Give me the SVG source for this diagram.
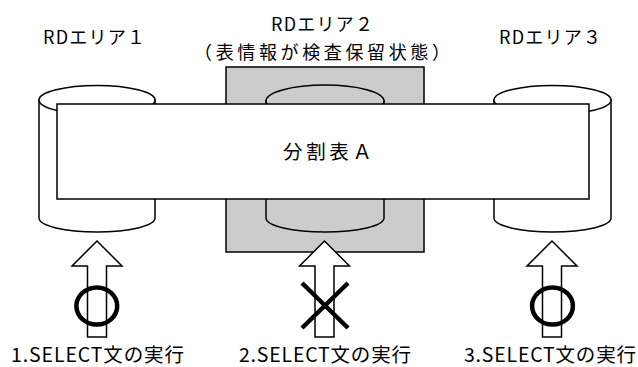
<svg xmlns="http://www.w3.org/2000/svg" width="638" height="367" viewBox="0 0 638 367">
<style>
.ln{stroke:#000;stroke-width:1.5;stroke-linejoin:miter}
.wh{fill:#fff}
.gr{fill:#cccccc}
.t{font-family:"Noto Sans CJK JP","Noto Sans",sans-serif;fill:#000}
.tt{font-size:18px}
.bt{font-size:19.5px}
.mark{fill:none;stroke:#000;stroke-width:4.5}
</style>
<defs>
<polygon id="arrow" points="0,0 -25,25 -9.5,25 -9.5,96 9.5,96 9.5,25 25,25" fill="#fff" stroke="#000" stroke-width="1.5"/>
</defs>
<rect width="638" height="367" fill="#fff"/>

<g id="rdarea2-box">
<rect x="226" y="67" width="198" height="185" class="gr ln"/>
</g>

<g id="rdarea1-cyl">
<path d="M39,100 L39,218 A58,14 0 0 0 155,218 L155,100 Z" class="wh ln"/>
<ellipse cx="97" cy="100" rx="58" ry="14.5" class="wh ln"/>
</g>
<g id="rdarea2-cyl">
<path d="M266,101 L266,218 A59,14 0 0 0 384,218 L384,101 Z" class="gr ln"/>
<ellipse cx="325" cy="101" rx="59" ry="16" class="gr ln"/>
</g>
<g id="rdarea3-cyl">
<path d="M494,100 L494,218 A58.5,14 0 0 0 611,218 L611,100 Z" class="wh ln"/>
<ellipse cx="552.5" cy="100" rx="58.5" ry="14.5" class="wh ln"/>
</g>

<g id="table-a">
<rect x="57" y="104" width="532" height="95" class="wh ln"/>
<text x="283" y="159" class="t bt" textLength="89" lengthAdjust="spacing">分割表Ａ</text>
</g>

<g id="labels">
<text x="43" y="44" class="t tt" textLength="102" lengthAdjust="spacing">RDエリア１</text>
<text x="271" y="31" class="t tt" textLength="102" lengthAdjust="spacing">RDエリア２</text>
<text x="194" y="58.5" class="t tt" textLength="256" lengthAdjust="spacing">（表情報が検査保留状態）</text>
<text x="499" y="44" class="t tt" textLength="102" lengthAdjust="spacing">RDエリア３</text>
</g>

<g id="connectors">
<use href="#arrow" x="97" y="241"/>
<use href="#arrow" x="324.5" y="241"/>
<use href="#arrow" x="552" y="241"/>
</g>

<g id="select1">
<ellipse cx="96.8" cy="306" rx="20.4" ry="18.6" class="mark"/>
<text x="11" y="362" class="t bt" textLength="173" lengthAdjust="spacing">1.SELECT文の実行</text>
</g>
<g id="select2">
<path d="M302,283 L348,328 M348,283 L302,328" class="mark"/>
<text x="239" y="362" class="t bt" textLength="172" lengthAdjust="spacing">2.SELECT文の実行</text>
</g>
<g id="select3">
<ellipse cx="552.5" cy="306" rx="20.4" ry="18.6" class="mark"/>
<text x="464" y="362" class="t bt" textLength="172" lengthAdjust="spacing">3.SELECT文の実行</text>
</g>
</svg>
